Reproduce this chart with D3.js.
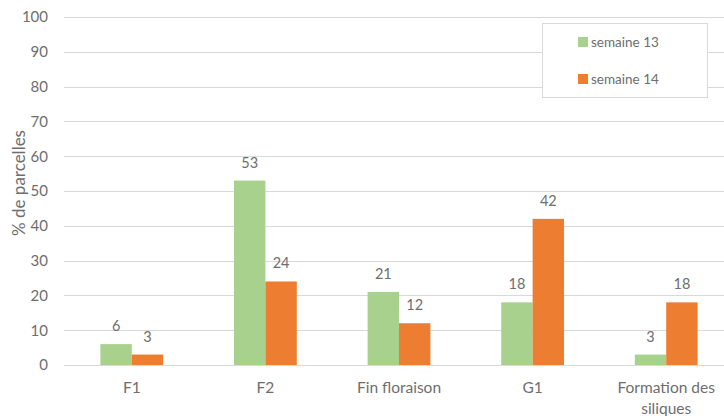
<!DOCTYPE html>
<html><head><meta charset="utf-8">
<script src="https://cdn.jsdelivr.net/npm/d3@7"></script>
<style>body{margin:0;background:#fff;} text{font-family:Lato,"Open Sans",sans-serif;fill:#6e6e6e;}</style>
</head><body>
<svg id="c" width="724" height="416"></svg>
<script>
const categories = ["F1", "F2", "Fin floraison", "G1", "Formation des siliques"];
const categoryLines = [["F1"], ["F2"], ["Fin floraison"], ["G1"], ["Formation des", "siliques"]];
const seriesNames = ["semaine 13", "semaine 14"];
const semaine13 = [6, 53, 21, 18, 3];
const semaine14 = [3, 24, 12, 42, 18];
const yTicks = [0, 10, 20, 30, 40, 50, 60, 70, 80, 90, 100];
const colors = ["#A9D18E", "#ED7D31"];

const svg = d3.select("#c");
const x0 = d3.scaleBand().domain(categories).range([65, 733]).paddingInner(0.53).paddingOuter(0.265);
const x1 = d3.scaleBand().domain(seriesNames).range([0, x0.bandwidth()]);
const y = d3.scaleLinear().domain([0, 100]).range([365, 17]);

// gridlines
svg.append("g").selectAll("line").data(yTicks).join("line")
  .attr("x1", 64).attr("x2", 724)
  .attr("y1", d => Math.round(y(d)) + 0.5).attr("y2", d => Math.round(y(d)) + 0.5)
  .attr("stroke", "#d9d9d9").attr("stroke-width", 1);

// y axis labels
const yAxis = d3.axisLeft(y).tickValues(yTicks).tickSize(0).tickPadding(0);
const ga = svg.append("g").attr("transform", "translate(48,0)").call(yAxis);
ga.select(".domain").remove();
ga.selectAll("text").style("font-size", "15px").attr("fill", "#6e6e6e").style("font-family", "Lato,'Open Sans',sans-serif");

// axis title
svg.append("text").attr("transform", "translate(25,183) rotate(-90)")
  .attr("text-anchor", "middle").style("font-size", "17px").text("% de parcelles");

const series = [semaine13, semaine14];
series.forEach((vals, si) => {
  const g = svg.append("g");
  g.selectAll("rect").data(categories).join("rect")
    .attr("x", (c) => x0(c) + x1(seriesNames[si]))
    .attr("width", x1.bandwidth())
    .attr("y", (c, i) => y(vals[i]))
    .attr("height", (c, i) => y(0) - y(vals[i]))
    .attr("fill", colors[si]);
  g.selectAll("text").data(categories).join("text")
    .attr("x", (c) => x0(c) + x1(seriesNames[si]) + x1.bandwidth() / 2)
    .attr("y", (c, i) => y(vals[i]) - 13)
    .attr("text-anchor", "middle").style("font-size", "14.5px")
    .text((c, i) => vals[i]);
});

// category labels
categories.forEach((c, i) => {
  const t = svg.append("text").attr("text-anchor", "middle").style("font-size", "15.5px")
    .attr("x", x0(c) + x0.bandwidth() / 2).attr("y", 393);
  categoryLines[i].forEach((ln, j) => {
    t.append("tspan").attr("x", x0(c) + x0.bandwidth() / 2).attr("dy", j === 0 ? 0 : 21).text(ln);
  });
});

// legend
const lg = svg.append("g");
lg.append("rect").attr("x", 542.5).attr("y", 23.5).attr("width", 165).attr("height", 74)
  .attr("fill", "#fff").attr("stroke", "#d9d9d9");
seriesNames.forEach((n, i) => {
  const cy = 42 + i * 37;
  lg.append("rect").attr("x", 578).attr("y", cy - 5).attr("width", 10).attr("height", 10).attr("fill", colors[i]);
  lg.append("text").attr("x", 591).attr("y", cy + 5).style("font-size", "13.5px").text(n);
});
</script>
</body></html>
